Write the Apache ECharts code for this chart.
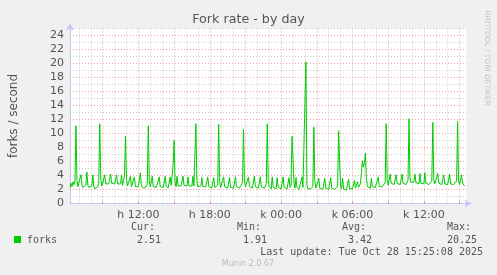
<!DOCTYPE html>
<html><head><meta charset="utf-8">
<script src="https://cdn.jsdelivr.net/npm/echarts@6/dist/echarts.min.js"></script>
<style>html,body{margin:0;padding:0;background:#f0f0f0;}#c{width:497px;height:275px;}</style>
</head><body><div id="c"></div><script>
// time axis in hours counted from Monday 00:00 ("h"), Tuesday = "k"
const startHour = 6.25;          // first sample, Mon 06:15
const endHour = 39.5833;         // right edge of plot, Tue 15:35
const stepMinutes = 5;
const forks = [
2.3,2.9,2.4,3.1,2.7,3.2,11.1,3.4,2.4,2.3,
2.5,4.1,2.7,2.3,2.2,2.4,2.6,4.5,2.6,2.3,
2.5,2.3,2.5,4.1,2.5,2.1,2.2,2.1,2.4,3.0,
11.4,3.6,2.5,2.9,2.7,4.1,2.8,2.7,2.9,2.8,
2.9,4.2,2.9,2.8,3.0,2.8,2.7,4.1,2.8,2.9,
2.7,2.8,4.1,2.6,3.2,4.0,9.6,3.4,2.5,2.3,
2.4,3.9,2.4,2.2,2.3,3.8,2.4,2.2,2.3,2.4,
2.5,4.4,2.5,2.3,2.2,2.3,2.2,2.4,2.8,11.1,
3.3,2.4,2.3,3.9,2.4,2.3,2.2,2.3,2.4,2.5,
3.8,2.4,2.3,2.2,2.3,2.5,3.9,2.5,2.3,2.2,
2.4,3.8,2.6,3.9,5.5,9.0,3.0,2.4,3.9,2.5,
2.4,2.6,2.5,2.4,3.9,2.6,2.5,2.4,2.5,3.8,
2.5,2.4,2.3,2.5,3.9,2.5,2.7,11.4,3.2,2.4,
2.3,2.4,2.5,3.7,2.4,2.2,2.3,2.4,2.3,3.8,
2.4,2.2,2.3,2.2,2.4,3.7,2.3,2.2,2.3,2.6,
11.3,3.1,2.3,2.4,2.5,3.8,2.4,2.2,2.3,2.2,
2.4,3.7,2.3,2.2,2.3,2.2,2.4,3.8,2.4,2.2,
2.3,2.2,2.3,2.4,3.0,10.6,3.2,2.4,2.3,2.4,
3.8,2.4,2.2,2.3,2.2,2.4,3.9,2.4,2.2,2.3,
2.2,2.4,3.8,2.4,2.2,2.3,2.2,2.4,2.8,11.4,
3.2,2.4,2.2,2.1,3.8,2.3,2.1,2.2,2.1,3.7,
2.3,2.1,2.2,2.1,2.2,3.8,2.3,2.1,2.2,2.1,
2.2,3.7,2.3,2.6,9.6,9.4,3.0,2.2,3.7,2.3,
2.1,2.0,2.1,2.2,3.8,2.3,2.1,2.2,20.25,2.6,
2.1,2.1,2.0,2.1,2.2,2.4,10.9,3.2,2.2,2.1,
2.2,3.6,2.2,2.0,2.1,2.0,2.1,3.6,2.2,2.0,
2.1,2.0,2.1,3.7,2.2,2.0,2.1,2.0,2.1,2.0,
2.5,10.4,5.9,2.4,2.1,3.6,2.1,1.95,2.0,1.91,
2.0,3.5,2.1,1.95,2.0,2.1,2.0,3.3,2.2,2.0,
3.1,2.3,2.1,2.8,4.4,6.1,5.2,5.8,7.2,3.6,
2.4,2.3,2.3,2.2,3.6,2.4,2.3,2.2,2.3,2.4,
2.3,3.8,2.4,2.3,2.2,2.4,2.3,2.5,3.0,11.4,
3.4,2.6,2.8,4.2,2.9,2.7,2.8,2.7,2.8,4.1,
2.9,2.7,2.8,2.7,2.8,4.2,2.9,2.7,2.8,2.7,
2.9,3.3,12.1,3.6,3.0,3.1,3.0,3.1,4.2,3.0,
2.8,2.9,2.8,4.3,2.9,2.8,2.9,2.8,4.4,2.9,
2.8,3.0,2.7,2.8,2.7,3.2,11.6,3.4,2.8,2.9,
2.8,4.3,2.9,2.7,2.8,2.7,2.8,4.1,2.8,2.7,
2.8,2.7,2.8,4.2,2.8,2.7,2.8,2.7,2.6,2.8,
3.2,11.7,3.2,2.7,2.8,4.1,2.9,2.7,2.51
];
const xLabelHours = [12, 18, 24, 30, 36];
const xLabels = ['h 12:00', 'h 18:00', 'k 00:00', 'k 06:00', 'k 12:00'];
const xMajorHours = [9, 12, 15, 18, 21, 24, 27, 30, 33, 36, 39];
const xMinorHours = [7, 8, 10, 11, 13, 14, 16, 17, 19, 20, 22, 23, 25, 26, 28, 29, 31, 32, 34, 35, 37, 38];
const yMajorTicks = [0, 2, 4, 6, 8, 10, 12, 14, 16, 18, 20, 22, 24];
const yMinorTicks = [1, 3, 5, 7, 9, 11, 13, 15, 17, 19, 21, 23, 25];
const yMax = 25;
const titleText = 'Fork rate - by day';
const yName = 'forks / second';
const seriesName = 'forks';
const statHeads = ['Cur:', 'Min:', 'Avg:', 'Max:'];
const statValues = ['2.51', '1.91', '3.42', '20.25'];
const lastUpdate = 'Last update: Tue Oct 28 15:25:08 2025';
const credit = 'Munin 2.0.67';
const sideText = 'RRDTOOL / TOBI OETIKER';

const data = forks.map((v, i) => [startHour + i * stepMinutes / 60, v]);
const GREEN = '#00cc00';
const AXIS = '#c6c6f4';
const MINOR = 'rgba(185,185,185,0.75)';
const MAJOR = 'rgba(235,120,120,0.7)';
const sans = 'DejaVu Sans';
const mono = 'DejaVu Sans Mono';

function gridLines(xs, ys) {
  return xs.map(h => ({xAxis: h})).concat(ys.map(v => ({yAxis: v})));
}
function gridSeries(name, xs, ys, color, z) {
  return {
    name: name, type: 'line', data: [], z: z, silent: true,
    markLine: {
      silent: true, symbol: ['none', 'none'], animation: false, z: z,
      label: {show: false}, emphasis: {disabled: true},
      lineStyle: {color: color, type: [1, 2], width: 1},
      data: gridLines(xs, ys)
    }
  };
}

const statX = [155, 261, 366, 471];
const statValX = [161, 267, 372, 477];
const graphics = [
  {type: 'rect', shape: {x: 14, y: 236, width: 7, height: 7}, style: {fill: GREEN}},
  {type: 'text', x: 27, y: 240, style: {text: seriesName, font: '10px ' + mono, fill: '#555', align: 'left', verticalAlign: 'middle'}},
  {type: 'text', x: 483, y: 252, style: {text: lastUpdate, font: '10px ' + mono, fill: '#555', align: 'right', verticalAlign: 'middle'}},
  {type: 'text', x: 248, y: 264, style: {text: credit, font: '8px ' + sans, fill: '#bbb', align: 'center', verticalAlign: 'middle'}},
  {type: 'text', x: 487, y: 58, rotation: -Math.PI / 2, style: {text: sideText, font: '7.4px ' + sans, fill: '#c4c4c4', align: 'center', verticalAlign: 'middle'}},
];
statHeads.forEach((h, k) => {
  graphics.push({type: 'text', x: statX[k], y: 227, style: {text: h, font: '10px ' + mono, fill: '#555', align: 'right', verticalAlign: 'middle'}});
  graphics.push({type: 'text', x: statValX[k], y: 240, style: {text: statValues[k], font: '10px ' + mono, fill: '#555', align: 'right', verticalAlign: 'middle'}});
});

const chart = echarts.init(document.getElementById('c'), null, {renderer: 'canvas'});
chart.setOption({
  backgroundColor: '#f0f0f0',
  animation: false,
  title: {text: titleText, left: 'center', top: 13, padding: 0,
    textStyle: {fontFamily: sans, fontSize: 12.7, fontWeight: 'normal', color: '#555'}},
  grid: {left: 66.5, top: 28.5, width: 400, height: 175, show: true, backgroundColor: '#fff', borderWidth: 0},
  xAxis: {
    type: 'value', min: startHour, max: endHour,
    axisLine: {show: true, lineStyle: {color: AXIS, width: 1}, symbol: ['none', 'arrow'], symbolSize: [6, 7], symbolOffset: [0, 5]},
    axisTick: {show: true, inside: true, length: 2, customValues: xMajorHours, lineStyle: {color: '#e77'}},
    axisLabel: {show: true, customValues: xLabelHours, margin: 6, color: '#555', fontFamily: sans, fontSize: 11,
      formatter: v => { const k = xLabelHours.indexOf(Math.round(v)); return k >= 0 ? xLabels[k] : ''; }},
    splitLine: {show: false}
  },
  yAxis: {
    type: 'value', min: 0, max: yMax,
    name: yName, nameLocation: 'middle', nameGap: 50, nameRotate: 90,
    nameTextStyle: {fontFamily: sans, fontSize: 12, color: '#555'},
    axisLine: {show: true, lineStyle: {color: AXIS, width: 1}, symbol: ['none', 'arrow'], symbolSize: [6, 7], symbolOffset: [0, 5]},
    axisTick: {show: false},
    axisLabel: {show: true, customValues: yMajorTicks, margin: 6, color: '#555', fontFamily: sans, fontSize: 11},
    splitLine: {show: false}
  },
  series: [
    gridSeries('minor', xMinorHours, yMinorTicks, MINOR, 1),
    gridSeries('major', xMajorHours, yMajorTicks.filter(v => v > 0), MAJOR, 2),
    {
      name: seriesName, type: 'line', data: data,
      showSymbol: false, symbol: 'none', smooth: false,
      lineStyle: {color: GREEN, width: 1}, z: 5
    }
  ],
  graphic: graphics
});
</script></body></html>
